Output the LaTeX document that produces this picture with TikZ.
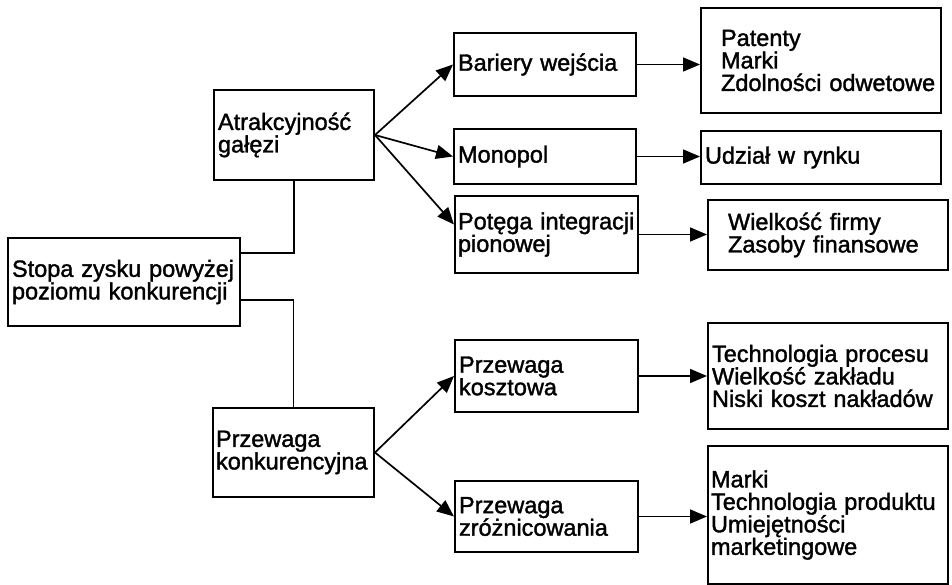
\documentclass[tikz,border=0pt]{standalone}
\usepackage{fontspec}
\setmainfont{Liberation Sans}
\newfontfamily\heavy{Liberation Sans}[FakeBold=1.5]
\usetikzlibrary{arrows.meta,positioning}
\tikzset{
  fx/.style={x=1pt, y=1pt},
  blk/.style={draw, line width=2pt, anchor=north west, align=left, inner xsep=4pt, inner ysep=0pt,
    font=\heavy\fontsize{23.5}{22.5}\selectfont},
  lnk/.style={line width=1.7pt},
  arr/.style={lnk, -{Triangle[length=17pt, width=14pt]}},
}
\newcommand{\ind}{\hspace*{16pt}}

\begin{document}
\begin{tikzpicture}[fx]
\useasboundingbox (0,0) rectangle (952,-585);
% ---- left column ----
\node[blk, minimum width=160pt, minimum height=90pt, text width=152pt] (attr) at (213,-89) {Atrakcyjność\\gałęzi};
\node[blk, minimum width=232pt, minimum height=88pt, text width=224pt] (stopa) at (7,-237) {Stopa zysku powyżej\\poziomu konkurencji};
\node[blk, minimum width=161pt, minimum height=89pt, text width=155pt, inner xsep=3pt] (konk) at (212,-407) {Przewaga\\konkurencyjna};
% ---- middle column ----
\node[blk, minimum width=182pt, minimum height=63pt, text width=174pt] (bariery) at (453,-32) {Bariery wejścia};
\node[blk, minimum width=182pt, minimum height=55pt, text width=174pt] (monopol) at (453,-128) {Monopol};
\node[blk, minimum width=183pt, minimum height=77pt, text width=177pt, inner xsep=3pt] (potega) at (454,-195) {Potęga integracji\\pionowej};
\node[blk, minimum width=183pt, minimum height=72pt, text width=175pt] (kosztowa) at (454,-339) {Przewaga\\kosztowa};
\node[blk, minimum width=183pt, minimum height=71pt, text width=175pt] (zroz) at (454,-480) {Przewaga\\zróżnicowania};
% ---- right column ----
\node[blk, minimum width=240pt, minimum height=105pt, text width=232pt] (patenty) at (700,-7) {\ind Patenty\\\ind Marki\\\ind Zdolności odwetowe};
\node[blk, minimum width=240pt, minimum height=53pt, text width=232pt] (udzial) at (700,-130) {Udział w rynku};
\node[blk, minimum width=240pt, minimum height=70pt, text width=232pt] (wielkosc) at (707,-199) {\ind Wielkość firmy\\\ind Zasoby finansowe};
\node[blk, minimum width=240pt, minimum height=106pt, text width=232pt] (techn) at (707,-322) {Technologia procesu\\Wielkość zakładu\\Niski koszt nakładów};
\node[blk, minimum width=240pt, minimum height=138pt, text width=234pt, inner xsep=3pt] (marki) at (707,-445) {Marki\\Technologia produktu\\Umiejętności\\marketingowe};
% ---- connectors ----
\draw[lnk] (attr.south) |- ([yshift=29pt]stopa.east);
\draw[lnk] ([yshift=-18pt]stopa.east) -| (konk.north);
\draw[arr] (attr.east) -- (bariery.west);
\draw[arr] (attr.east) -- (monopol.west);
\draw[arr] (attr.east) -- ([yshift=10pt]potega.west);
\draw[arr] (konk.east) -- (kosztowa.west);
\draw[arr] (konk.east) -- (zroz.west);
\draw[arr] (bariery.east) -- (bariery.east -| patenty.west);
\draw[arr] (monopol.east) -- (monopol.east -| udzial.west);
\draw[arr] (potega.east) -- (potega.east -| wielkosc.west);
\draw[arr] (kosztowa.east) -- (kosztowa.east -| techn.west);
\draw[arr] (zroz.east) -- (zroz.east -| marki.west);
\end{tikzpicture}
\end{document}
